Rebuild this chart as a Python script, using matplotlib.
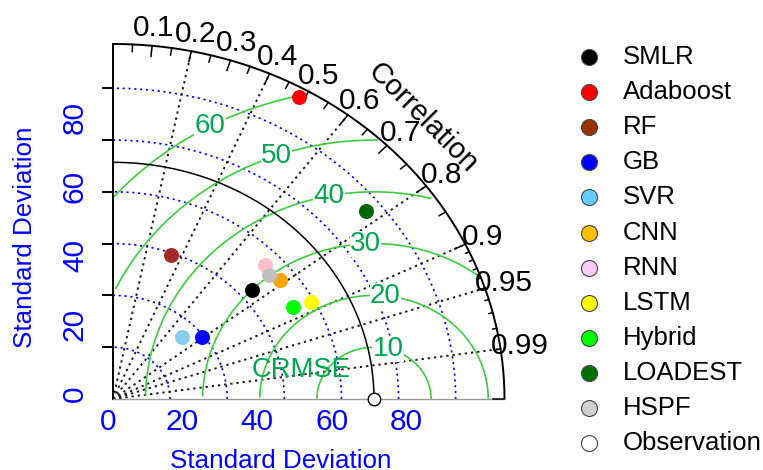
import numpy as np
import matplotlib
matplotlib.use("Agg")
import matplotlib.pyplot as plt

plt.rcParams['font.family'] = ['Liberation Sans', 'DejaVu Sans']

# ---------------- data ----------------
models = ["SMLR", "Adaboost", "RF", "GB", "SVR", "CNN", "RNN", "LSTM",
          "Hybrid", "LOADEST", "HSPF"]
sd_values = [32.2, 66.8, 29.6, 19.7, 17.0, 37.2, 37.1, 39.4, 36.2, 57.3, 36.3]
corr_values = [0.756, 0.488, 0.343, 0.793, 0.710, 0.786, 0.717, 0.880,
               0.871, 0.774, 0.752]
point_colors = ["black", "red", "brown", "blue", "skyblue", "orange", "pink",
                "yellow", "#00FF00", "darkgreen", "#BEBEBE"]
legend_colors = ["black", "#FF0000", "#993300", "#0000FF", "#66CCFF", "#FFC000",
                 "#FFCCF5", "#FFFF00", "#00FF00", "#007000", "#D0D0D0"]
obs_name = "Observation"
obs_sd = 45.7

corr_label_values = [0.1, 0.2, 0.3, 0.4, 0.5, 0.6, 0.7, 0.8, 0.9, 0.95, 0.99]
radial_corr = [0.2, 0.4, 0.6, 0.8, 0.9, 0.95, 0.99]
sd_arc_values = [10, 20, 30, 40, 50, 60]
crmse_levels = [10, 20, 30, 40, 50, 60]
axis_label_values = [0, 20, 40, 60, 80]

# ---------------- layout ----------------
W, H = 763, 470
ox, oy = 113, 399            # origin in pixels (from top-left)
sx, sy = 5.711, 5.179        # pixels per unit (x, y)
x_lab_scale, x_lab_off = 0.653, -0.9
y_lab_scale, y_lab_off = 0.668, 1.0

fig = plt.figure(figsize=(W / 100, H / 100), dpi=100)
ax = fig.add_axes([0, 0, 1, 1])
ax.set_xlim(-ox / sx, (W - ox) / sx)
ax.set_ylim(-(H - oy) / sy, oy / sy)
ax.axis('off')

maxsd = 1.5 * obs_sd
th = np.linspace(0, np.pi / 2, 300)

line_green = "#40CC40"
text_green = "#00A651"

# blue dotted sd arcs
for r in sd_arc_values:
    ax.plot(r * np.cos(th), r * np.sin(th), color="blue", lw=1.2,
            ls=(0, (1.3, 2.2)), zorder=2)

# radial correlation lines
for c in radial_corr:
    a = np.arccos(c)
    ax.plot([0, maxsd * np.cos(a)], [0, maxsd * np.sin(a)], color="#1a1a1a",
            lw=1.4, ls=(0, (1.2, 2.0)), zorder=2)

# CRMSE contours (plotrix style)
ang = np.arange(0, np.pi, 0.03)
labelpos = np.linspace(44, 69, len(crmse_levels)).astype(int)
for g, lp in zip(crmse_levels, labelpos):
    xc = np.cos(ang) * g + obs_sd
    yc = np.sin(ang) * g
    out = np.where(xc ** 2 + yc ** 2 > maxsd ** 2)[0]
    start = out.max() + 1 if len(out) else 0
    neg = np.where(xc < 0)[0]
    end = neg.min() - 1 if len(neg) else len(xc) - 1
    ax.plot(xc[start:end + 1], yc[start:end + 1], color=line_green, lw=1.2,
            zorder=3)
    if xc[lp] > 0:
        ax.text(xc[lp], yc[lp], str(g), color=text_green, fontsize=20,
                ha='center', va='center', zorder=4,
                bbox=dict(facecolor='white', edgecolor='none', pad=0.3))

# reference arc
ax.plot(obs_sd * np.cos(th), obs_sd * np.sin(th), color="black", lw=1.1, zorder=3)
# outer arc
ax.plot(maxsd * np.cos(th), maxsd * np.sin(th), color="black", lw=1.4, zorder=3)
# axes lines
ax.plot([0, 0], [0, maxsd], color="black", lw=1.4, zorder=3)
ax.plot([0, maxsd], [0, 0], color="#9a9a9a", lw=1.0, zorder=3)

# left axis ticks
for r in sd_arc_values:
    ax.plot([-10 / sx, 0], [r, r], color="black", lw=1.4, zorder=3)

# correlation ticks
big = np.arange(0.1, 0.95, 0.1)
med = np.arange(0.05, 1.0, 0.1)
sml = np.arange(0.91, 0.995, 0.01)
for vals, f in ((big, 0.97), (med, 0.98), (sml, 0.99), (np.array([1.0]), 0.97)):
    for c in vals:
        a = np.arccos(min(c, 1.0))
        ax.plot([maxsd * np.cos(a), f * maxsd * np.cos(a)],
                [maxsd * np.sin(a), f * maxsd * np.sin(a)],
                color="black", lw=1.1, zorder=3)

# correlation labels
for c in corr_label_values:
    a = np.arccos(c)
    ax.text(1.05 * maxsd * np.cos(a), 1.05 * maxsd * np.sin(a), f"{c:g}",
            fontsize=21.5, ha='center', va='center', color='black', zorder=5)
ax.text(1.12 * maxsd * np.cos(np.pi / 4), 1.12 * maxsd * np.sin(np.pi / 4),
        "Correlation", rotation=-45, fontsize=21, ha='center', va='center',
        rotation_mode='anchor', zorder=5)

# CRMSE label
ax.text((301 - ox) / sx, (oy - 370) / sy, "CRMSE", color=text_green,
        fontsize=19.7, ha='center', va='center', zorder=4)

# model points
for s, c, col in zip(sd_values, corr_values, point_colors):
    a = np.arccos(c)
    ax.plot(s * np.cos(a), s * np.sin(a), 'o', ms=10.8, color=col,
            markeredgewidth=0, zorder=6)
# observation
ax.plot(obs_sd, 0, 'o', ms=9, markerfacecolor='white',
        markeredgecolor='black', markeredgewidth=1.0, zorder=6, clip_on=False)

# axis tick labels
for v in axis_label_values:
    ax.text(v * x_lab_scale + x_lab_off, -(422 - oy) / sy, str(v), color='blue',
            fontsize=21.5, ha='center', va='center')
    ax.text(-(ox - 75) / sx, v * y_lab_scale + y_lab_off, str(v), color='blue',
            fontsize=21.5, ha='center', va='center', rotation=90)

# axis titles
fig.text(281 / W, 1 - 461 / H, "Standard Deviation", color='blue',
         fontsize=18.7, ha='center', va='center')
fig.text(25 / W, 1 - 237 / H, "Standard Deviation", color='blue',
         fontsize=18.7, ha='center', va='center', rotation=90)

# legend (manual)
lx_marker, lx_text, ly0, ldy = 589, 623, 57, 35.1
for i, (name, col) in enumerate(zip(models + [obs_name],
                                    legend_colors + ["white"])):
    y = 1 - (ly0 + i * ldy) / H
    fig.add_artist(matplotlib.lines.Line2D([lx_marker / W], [y], marker='o',
                                           ms=11.5, markerfacecolor=col,
                                           markeredgecolor='#444444',
                                           markeredgewidth=0.8,
                                           transform=fig.transFigure))
    fig.text(lx_text / W, y, name, fontsize=18.5, ha='left', va='center',
             color='black')

fig.savefig("out.png", dpi=100)
